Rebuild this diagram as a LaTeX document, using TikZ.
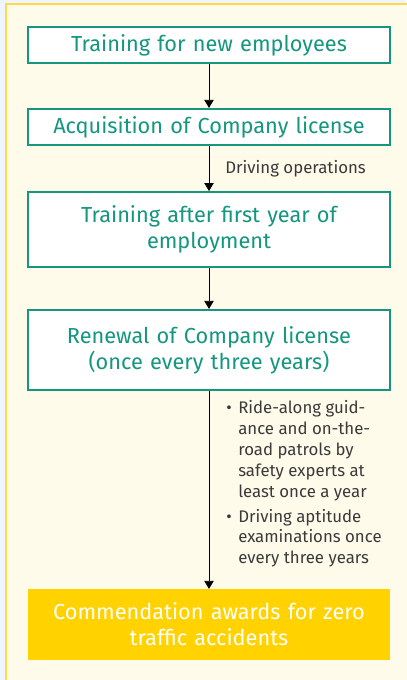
\documentclass[tikz,border=0pt]{standalone}
\usepackage{fontspec}
\setmainfont{Fira Sans}
\usetikzlibrary{arrows.meta,positioning}
\definecolor{teal1}{HTML}{14967F}
\definecolor{cream}{HTML}{FFFBEB}
\definecolor{outerbg}{HTML}{EEF5FF}
\definecolor{goldline}{HTML}{FFD94A}
\definecolor{gold}{HTML}{FFD200}
\definecolor{greytext}{HTML}{3A3A3A}
\tikzset{
  stepbox/.style={draw=teal1, line width=1.6pt, fill=white, minimum width=271.5pt, text width=268pt, align=center, inner sep=0pt, text=teal1, font=\fontsize{16.3}{19.5}\selectfont},
  goalbox/.style={fill=gold, minimum width=271.5pt, text width=268pt, align=center, inner sep=0pt, text=white, font=\fontsize{16.3}{19.5}\selectfont},
  flow/.style={-{Triangle[width=7pt,length=6pt]}, line width=0.6pt, black},
  note/.style={text=greytext, font=\fontsize{12.6}{15.7}\selectfont, inner sep=0pt}
}
\begin{document}
\begin{tikzpicture}[x=0.75pt,y=-0.75pt]
\useasboundingbox (0,0) rectangle (406,680);
\fill[outerbg] (0,0) rectangle (406,680);
\draw[goldline, line width=1.5pt, fill=cream] (6,4) rectangle (420,700);
\node[stepbox, minimum height=27pt] (b1) at (209,45) {Training for new employees};
\node[stepbox, minimum height=27pt] (b2) at (209,127) {Acquisition of Company license};
\node[stepbox, minimum height=56pt] (b3) at (209,229.5) {Training after first year of\\employment};
\node[stepbox, minimum height=60pt] (b4) at (209,350) {Renewal of Company license\\(once every three years)};
\node[goalbox, minimum height=53pt] (b5) at (209,624.5) {Commendation awards for zero\\traffic accidents};
\draw[flow] (b1) -- (b2);
\draw[flow] (b2) -- node[note, right=12pt, anchor=west] {Driving operations} (b3);
\draw[flow] (b3) -- (b4);
\draw[flow] (b4) -- (b5);
\node[note, anchor=north west, align=left] (n1) at (226,400) {%
\makebox[9pt][l]{\textbullet}Ride-along guid-\\
\hspace*{9pt}ance and on-the-\\
\hspace*{9pt}road patrols by\\
\hspace*{9pt}safety experts at\\
\hspace*{9pt}least once a year\\[3pt]
\makebox[9pt][l]{\textbullet}Driving aptitude\\
\hspace*{9pt}examinations once\\
\hspace*{9pt}every three years};
\end{tikzpicture}
\end{document}
